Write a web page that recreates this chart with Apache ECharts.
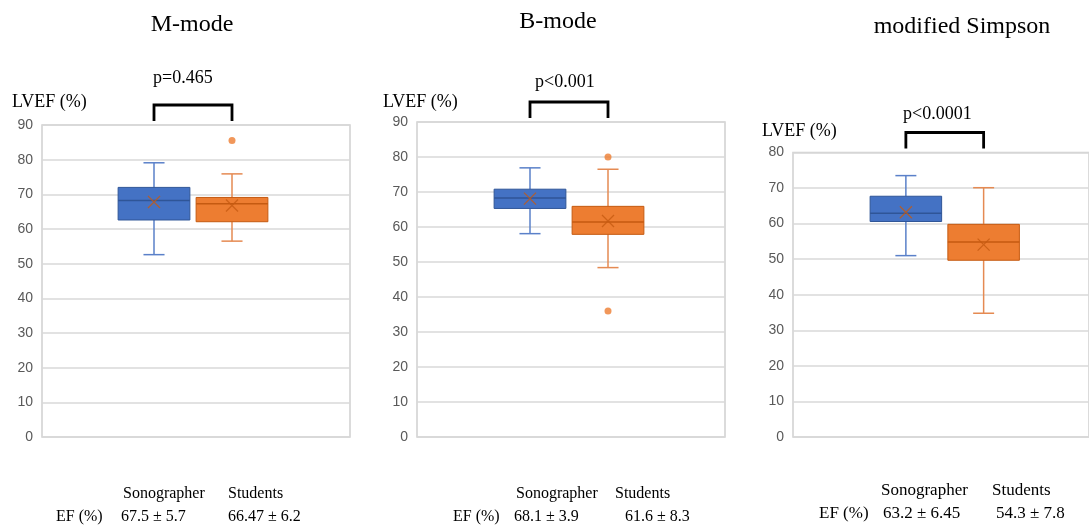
<!DOCTYPE html>
<html>
<head>
<meta charset="utf-8">
<script src="https://cdn.jsdelivr.net/npm/echarts@6/dist/echarts.min.js"></script>
<style>html,body{margin:0;padding:0;background:#fff}#c{width:1089px;height:528px}</style>
</head>
<body>
<div id="c"></div>
<script>
// ---------- data ----------
const panelTitles = ['M-mode', 'B-mode', 'modified Simpson'];
const groups = ['Sonographer', 'Students'];
const pValues = ['p=0.465', 'p<0.001', 'p<0.0001'];
const yMaxes = [90, 90, 80];
const yInterval = 10;
// [min, Q1, median, Q3, max]
const mModeSono = [52.6, 62.6, 68.2, 72.0, 79.1];
const mModeStud = [56.5, 62.1, 67.3, 69.1, 75.9];
const bModeSono = [58.1, 65.3, 68.3, 70.8, 76.9];
const bModeStud = [48.4, 57.9, 61.4, 65.9, 76.5];
const simpSono = [51.0, 60.6, 62.9, 67.7, 73.5];
const simpStud = [34.8, 49.7, 54.8, 59.8, 70.1];
// means (the X marks)
const mModeMeans = [67.8, 66.8];
const bModeMeans = [68.1, 61.7];
const simpMeans = [63.2, 54.1];
// outliers (students only)
const mModeOutliers = [85.5];
const bModeOutliers = [80.0, 36.0];
const simpOutliers = [];
// summary table
const efSono = ['67.5 ± 5.7', '68.1 ± 3.9', '63.2 ± 6.45'];
const efStud = ['66.47 ± 6.2', '61.6 ± 8.3', '54.3 ± 7.8'];
const yAxisName = 'LVEF (%)';
const efLabel = 'EF (%)';

// ---------- layout / style ----------
const boxStats = [[mModeSono, mModeStud], [bModeSono, bModeStud], [simpSono, simpStud]];
const meanVals = [mModeMeans, bModeMeans, simpMeans];
const outlierVals = [mModeOutliers, bModeOutliers, simpOutliers];

const W = 1089;
const layout = [
  {outer: {left: 42, top: 125, width: 308, height: 312}, inner: {left: 115, width: 156},
   title: [192, 25], pv: [153, 78], lvef: [12, 102],
   row1: [123, 494], row2: [56, 517], col2: 228, valCol1: 121, fs: 16},
  {outer: {left: 417, top: 122, width: 308, height: 315}, inner: {left: 491, width: 156},
   title: [558, 22], pv: [535, 82], lvef: [383, 102],
   row1: [516, 494], row2: [453, 517], col2: 615, valCol1: 514, valCol2: 625, fs: 16},
  {outer: {left: 793, top: 152.5, width: 310, height: 284.5}, inner: {left: 867, width: 155.5},
   title: [962, 27], pv: [903, 114], lvef: [762, 131],
   row1: [881, 491], row2: [819, 514], col2: 992, valCol1: 883, valCol2: 996, fs: 17}
];

const palette = [
  {fill: '#4472C4', border: '#2F5597', median: '#2F5597', whisker: '#5A80C9', mean: '#2F5597'},
  {fill: '#ED7D31', border: '#C55A11', median: '#C55A11', whisker: '#E58A52', mean: '#C55A11'}
];
const serif = '"Liberation Serif", "Times New Roman", serif';

function renderBox(params, api) {
  const cat = api.value(0);
  const pMin = api.coord([cat, api.value(1)]);
  const pQ1 = api.coord([cat, api.value(2)]);
  const pMed = api.coord([cat, api.value(3)]);
  const pQ3 = api.coord([cat, api.value(4)]);
  const pMax = api.coord([cat, api.value(5)]);
  const band = api.size([1, 0])[0];
  const bw = band * 0.92, cw = band * 0.27;
  const x = pMed[0];
  const c = palette[cat];
  const ws = {stroke: c.whisker, lineWidth: 1.5};
  return {
    type: 'group',
    children: [
      {type: 'line', shape: {x1: x, y1: pMax[1], x2: x, y2: pQ3[1]}, style: ws},
      {type: 'line', shape: {x1: x, y1: pQ1[1], x2: x, y2: pMin[1]}, style: ws},
      {type: 'line', shape: {x1: x - cw / 2, y1: pMax[1], x2: x + cw / 2, y2: pMax[1]}, style: ws},
      {type: 'line', shape: {x1: x - cw / 2, y1: pMin[1], x2: x + cw / 2, y2: pMin[1]}, style: ws},
      {type: 'rect', shape: {x: x - bw / 2, y: pQ3[1], width: bw, height: pQ1[1] - pQ3[1]},
       style: {fill: c.fill, stroke: c.border, lineWidth: 1}},
      {type: 'line', shape: {x1: x - bw / 2, y1: pMed[1], x2: x + bw / 2, y2: pMed[1]},
       style: {stroke: c.median, lineWidth: 1.5}}
    ]
  };
}

function renderBracket(params, api) {
  const a = api.coord([api.value(0), api.value(2)]);
  const b = api.coord([api.value(1), api.value(2)]);
  const yb = a[1] - 4, yt = a[1] - 20;
  return {
    type: 'polyline',
    shape: {points: [[a[0], yb], [a[0], yt], [b[0], yt], [b[0], yb]]},
    style: {stroke: '#000', lineWidth: 2.8, fill: null, lineJoin: 'miter'}
  };
}

const grid = [], xAxis = [], yAxis = [], series = [], graphic = [];
layout.forEach((L, i) => {
  const yMax = yMaxes[i];
  const o = L.outer;
  grid.push({left: o.left, top: o.top, width: o.width, height: o.height,
    show: true, borderColor: '#d0d0d0', borderWidth: 1.5, backgroundColor: '#fff'});
  grid.push({left: L.inner.left, top: o.top, width: L.inner.width, height: o.height});
  const gOut = i * 2, gIn = i * 2 + 1;
  xAxis.push({gridIndex: gOut, type: 'category', data: groups, show: false});
  xAxis.push({gridIndex: gIn, type: 'category', data: groups, show: false});
  yAxis.push({gridIndex: gOut, type: 'value', min: 0, max: yMax, interval: yInterval,
    axisLine: {show: false}, axisTick: {show: false},
    axisLabel: {color: '#595959', fontSize: 14, fontFamily: '"Liberation Sans", Arial, sans-serif', margin: 9},
    splitLine: {lineStyle: {color: '#d9d9d9', width: 1.6}}});
  yAxis.push({gridIndex: gIn, type: 'value', min: 0, max: yMax, interval: yInterval, show: false,
    splitLine: {show: false}});

  series.push({
    type: 'custom', xAxisIndex: gIn, yAxisIndex: gIn, renderItem: renderBox,
    encode: {x: 0, y: [1, 2, 3, 4, 5]},
    data: boxStats[i].map((s, k) => [k].concat(s)), z: 3
  });
  series.push({
    type: 'scatter', xAxisIndex: gIn, yAxisIndex: gIn,
    symbol: 'path://M0,0L10,10M10,0L0,10', symbolSize: 12,
    itemStyle: {color: 'rgba(0,0,0,0)', borderWidth: 1.3,
      borderColor: (p) => palette[p.data[0]].mean},
    data: meanVals[i].map((m, k) => [k, m]), z: 5, silent: true
  });
  series.push({
    type: 'scatter', xAxisIndex: gIn, yAxisIndex: gIn, symbol: 'circle', symbolSize: 7,
    itemStyle: {color: palette[1].fill},
    data: outlierVals[i].map(v => [1, v]), z: 5, silent: true
  });
  series.push({
    type: 'custom', xAxisIndex: gIn, yAxisIndex: gIn, renderItem: renderBracket,
    encode: {x: [0, 1], y: 2}, clip: false, silent: true,
    data: [[0, 1, yMax]], z: 6
  });

  graphic.push({type: 'text', x: L.title[0], y: L.title[1],
    style: {text: panelTitles[i], fontSize: 24, fontFamily: serif, fill: '#000', align: 'center', verticalAlign: 'middle'}});
  graphic.push({type: 'text', x: L.pv[0], y: L.pv[1],
    style: {text: pValues[i], fontSize: 18, fontFamily: serif, fill: '#000', align: 'left', verticalAlign: 'middle'}});
  graphic.push({type: 'text', x: L.lvef[0], y: L.lvef[1],
    style: {text: yAxisName, fontSize: 18, fontFamily: serif, fill: '#000', align: 'left', verticalAlign: 'middle'}});
  const fs = L.fs;
  const t = (text, x, y) => graphic.push({type: 'text', x: x, y: y,
    style: {text: text, fontSize: fs, fontFamily: serif, fill: '#000', align: 'left', verticalAlign: 'middle'}});
  t(groups[0], L.row1[0], L.row1[1]);
  t(groups[1], L.col2, L.row1[1]);
  t(efLabel, L.row2[0], L.row2[1]);
  t(efSono[i], L.valCol1, L.row2[1]);
  t(efStud[i], L.valCol2 || L.col2, L.row2[1]);
});

const chart = echarts.init(document.getElementById('c'), null, {renderer: 'canvas'});
chart.setOption({
  animation: false,
  backgroundColor: '#fff',
  grid: grid, xAxis: xAxis, yAxis: yAxis, series: series, graphic: graphic
});
</script>
</body>
</html>
